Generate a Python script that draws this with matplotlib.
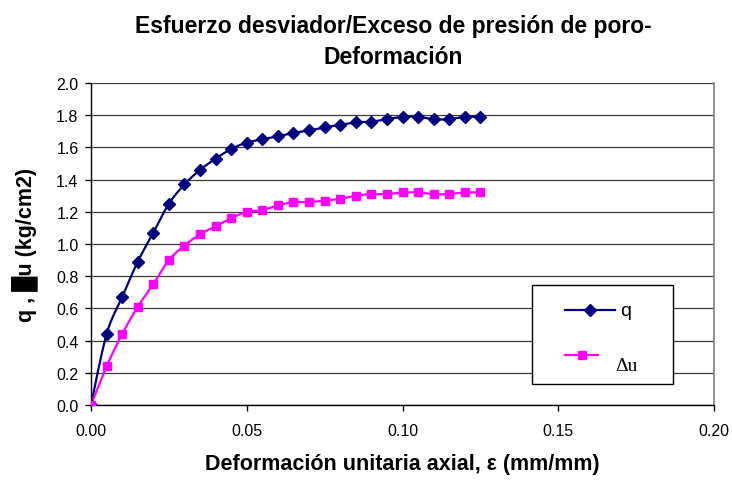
import numpy as np
import matplotlib.pyplot as plt
from matplotlib.patches import Rectangle

plt.rcParams['font.family'] = ['Liberation Sans', 'DejaVu Sans']

# Ensayo triaxial: deformación axial vs esfuerzo desviador y exceso de presión de poro
deformacion = [0.000, 0.005, 0.010, 0.015, 0.020, 0.025, 0.030, 0.035, 0.040,
               0.045, 0.050, 0.055, 0.060, 0.065, 0.070, 0.075, 0.080, 0.085,
               0.090, 0.095, 0.100, 0.105, 0.110, 0.115, 0.120, 0.125]
q = [0.00, 0.44, 0.67, 0.89, 1.07, 1.25, 1.37, 1.46, 1.53, 1.59, 1.63, 1.65, 1.67,
     1.69, 1.705, 1.725, 1.74, 1.755, 1.76, 1.775, 1.79, 1.79, 1.775, 1.775, 1.79, 1.79]
delta_u = [0.00, 0.24, 0.44, 0.61, 0.75, 0.90, 0.99, 1.06, 1.11, 1.16, 1.20, 1.21, 1.24,
           1.26, 1.26, 1.27, 1.28, 1.30, 1.31, 1.31, 1.32, 1.32, 1.31, 1.31, 1.32, 1.32]

x_ticks = [0.00, 0.05, 0.10, 0.15, 0.20]
y_ticks = [0.0, 0.2, 0.4, 0.6, 0.8, 1.0, 1.2, 1.4, 1.6, 1.8, 2.0]

color_q = '#000080'
color_u = '#FF00FF'


def suavizar(x, y, n=16):
    # curva suavizada tipo Catmull-Rom (como la linea suavizada de Excel)
    p = np.column_stack([x, y]).astype(float)
    p = np.vstack([p[0], p, p[-1]])
    t = np.linspace(0, 1, n, endpoint=False)[:, None]
    seg = []
    for i in range(1, len(p) - 2):
        p0, p1, p2, p3 = p[i - 1], p[i], p[i + 1], p[i + 2]
        c1 = p1 + (p2 - p0) / 6
        c2 = p2 - (p3 - p1) / 6
        seg.append((1 - t) ** 3 * p1 + 3 * (1 - t) ** 2 * t * c1
                   + 3 * (1 - t) * t ** 2 * c2 + t ** 3 * p2)
    seg.append(p[-2][None, :])
    s = np.vstack(seg)
    return s[:, 0], s[:, 1]


fig = plt.figure(figsize=(7.32, 4.81), dpi=100)
ax = fig.add_axes([91 / 732, 1 - 406 / 481, 623 / 732, 322 / 481])

xs, ys = suavizar(deformacion, q)
ax.plot(xs, ys, color=color_q, lw=1.6, zorder=3)
ax.plot(deformacion, q, ls='none', marker='D', ms=6, color=color_q, zorder=4)

xs, ys = suavizar(deformacion, delta_u)
ax.plot(xs, ys, color=color_u, lw=1.6, zorder=3)
ax.plot(deformacion, delta_u, ls='none', marker='s', ms=6, color=color_u, zorder=4)

ax.set_xlim(0, 0.20)
ax.set_ylim(0, 2.0)
ax.set_xticks(x_ticks)
ax.set_yticks(y_ticks)
ax.set_xticklabels([f'{v:.2f}' for v in x_ticks])
ax.set_yticklabels([f'{v:.1f}' for v in y_ticks])
ax.tick_params(direction='out', length=4, width=1, labelsize=11.5)
ax.tick_params(axis='x', pad=9)
ax.tick_params(axis='y', pad=5)
ax.yaxis.grid(True, color='#3a3a3a', lw=0.9)
ax.set_axisbelow(True)

for lado in ['left', 'bottom']:
    ax.spines[lado].set_color('black')
    ax.spines[lado].set_linewidth(1)
ax.spines['top'].set_visible(False)
ax.spines['right'].set_color('#808080')
ax.spines['right'].set_linewidth(1.2)

ax.set_xlabel('Deformación unitaria axial, ε (mm/mm)', fontsize=15.5,
              fontweight='bold', labelpad=11)
ax.set_ylabel('q , █u (kg/cm2)', fontsize=15.5, fontweight='bold', labelpad=13)

fig.text(393 / 732, 1 - 27 / 481, 'Esfuerzo desviador/Exceso de presión de poro-',
         ha='center', va='center', fontsize=16.5, fontweight='bold')
fig.text(393 / 732, 1 - 58 / 481, 'Deformación',
         ha='center', va='center', fontsize=16.5, fontweight='bold')

# leyenda dibujada a mano dentro del area de trazado
ax.add_patch(Rectangle((0.708, 0.065), 0.226, 0.3065, transform=ax.transAxes,
                       facecolor='white', edgecolor='black', lw=1, zorder=5))
ax.plot([0.761, 0.801, 0.841], [0.295] * 3, transform=ax.transAxes, color=color_q,
        lw=1.6, marker='D', ms=6, markevery=[1], zorder=6, clip_on=False)
ax.text(0.850, 0.295, 'q', transform=ax.transAxes, fontsize=14,
        va='center', ha='left', zorder=6)
ax.plot([0.761, 0.7875, 0.814], [0.155] * 3, transform=ax.transAxes, color=color_u,
        lw=1.6, marker='s', ms=6, markevery=[1], zorder=6, clip_on=False)
ax.text(0.842, 0.124, 'Δu', transform=ax.transAxes, fontsize=14,
        family=['Liberation Serif', 'DejaVu Serif'], va='center', ha='left', zorder=6)

fig.savefig('out.png', dpi=100)
